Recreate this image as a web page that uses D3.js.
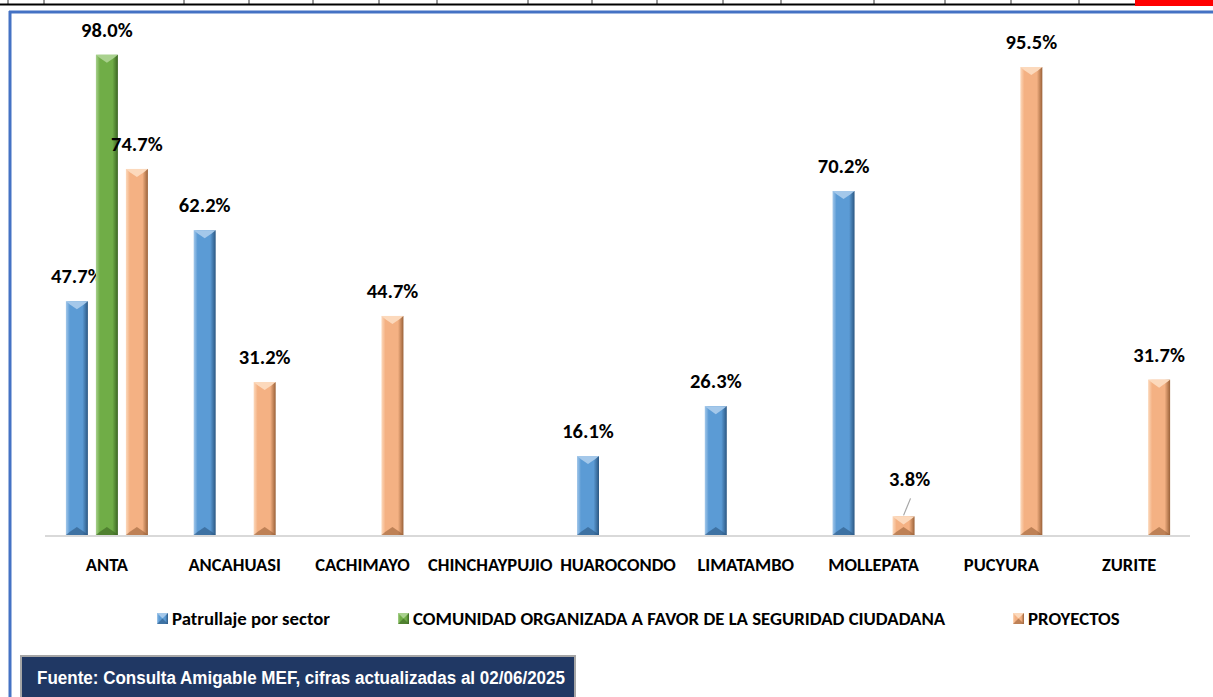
<!DOCTYPE html>
<html>
<head>
<meta charset="utf-8">
<script src="https://d3js.org/d3.v7.min.js"></script>
<style>
  body { margin: 0; background: #fff; }
  svg text { font-family: Carlito, "Liberation Sans Narrow", "Liberation Sans", sans-serif; font-weight: bold; fill: #000; }
  .footer text { font-family: "Liberation Sans", Arial, sans-serif; fill: #fff; }
</style>
</head>
<body>
<svg width="1213" height="697"></svg>
<script>
// data
const categories = ["ANTA", "ANCAHUASI", "CACHIMAYO", "CHINCHAYPUJIO", "HUAROCONDO", "LIMATAMBO", "MOLLEPATA", "PUCYURA", "ZURITE"];
const seriesNames = ["Patrullaje por sector", "COMUNIDAD ORGANIZADA A FAVOR DE LA SEGURIDAD CIUDADANA", "PROYECTOS"];
const patrullaje = [47.7, 62.2, null, null, 16.1, 26.3, 70.2, null, null];
const comunidad  = [98.0, null, null, null, null, null, null, null, null];
const proyectos  = [74.7, 31.2, 44.7, null, null, null, 3.8, 95.5, 31.7];
const footerText = "Fuente: Consulta Amigable MEF, cifras actualizadas al 02/06/2025";

const colors = [
  { light: "#a4c8ea", mid: "#5b9bd5", dark: "#2b5782" },
  { light: "#a9d18e", mid: "#70ad47", dark: "#3b6422" },
  { light: "#fcd9bc", mid: "#f4b183", dark: "#9a6138" }
];

const svg = d3.select("svg");

// top strip (cut-off table above the chart)
const strip = svg.append("g");
[8, 44, 184, 249, 313, 379, 437, 528, 592, 657, 723, 781, 874, 945, 1011, 1079].forEach(x => {
  strip.append("line").attr("x1", x).attr("x2", x).attr("y1", 0).attr("y2", 5).attr("stroke", "#333").attr("stroke-width", 1);
});
strip.append("line").attr("x1", 0).attr("x2", 1135).attr("y1", 4.5).attr("y2", 4.5).attr("stroke", "#000").attr("stroke-width", 2);
strip.append("rect").attr("x", 1135).attr("y", 0).attr("width", 78).attr("height", 6).attr("fill", "#ff0000");

// blue frame
svg.append("line").attr("x1", 9).attr("x2", 1213).attr("y1", 12).attr("y2", 12).attr("stroke", "#4472c4").attr("stroke-width", 3);
svg.append("line").attr("x1", 10).attr("x2", 10).attr("y1", 11).attr("y2", 697).attr("stroke", "#4472c4").attr("stroke-width", 3);

// gradients
const defs = svg.append("defs");
colors.forEach((c, i) => {
  const g = defs.append("linearGradient").attr("id", "grad" + i).attr("x1", "0").attr("x2", "1").attr("y1", "0").attr("y2", "0");
  g.append("stop").attr("offset", "0%").attr("stop-color", c.light);
  g.append("stop").attr("offset", "18%").attr("stop-color", c.mid);
  g.append("stop").attr("offset", "75%").attr("stop-color", c.mid);
  g.append("stop").attr("offset", "100%").attr("stop-color", c.dark);
});

const x0 = d3.scaleBand().domain(categories).range([43, 1193]);
const x1 = d3.scaleBand().domain([0, 1, 2]).range([-41, 41]).paddingInner(8 / 30);
const y = d3.scaleLinear().domain([0, 100]).range([535, 45]);

// baseline
svg.append("line").attr("x1", 45).attr("x2", 1190).attr("y1", y(0) + 1).attr("y2", y(0) + 1)
  .attr("stroke", "#d9d9d9").attr("stroke-width", 2);

const allSeries = [patrullaje, comunidad, proyectos];
const bars = [];
allSeries.forEach((vals, s) => {
  vals.forEach((v, i) => {
    if (v != null) bars.push({ s: s, cat: categories[i], v: v });
  });
});

const bw = x1.bandwidth();
const bar = svg.append("g").selectAll("g").data(bars).join("g")
  .attr("transform", d => "translate(" + (x0(d.cat) + x0.bandwidth() / 2 + x1(d.s)) + ",0)");

bar.append("rect")
  .attr("x", 0).attr("y", d => y(d.v)).attr("width", bw).attr("height", d => y(0) - y(d.v))
  .attr("fill", d => "url(#grad" + d.s + ")");

bar.append("polygon")
  .attr("points", d => {
    const t = y(d.v), h = Math.min(8, (y(0) - t) / 2);
    return [[0, t], [bw, t], [bw - 4, t + h * 0.4], [bw / 2, t + h], [4, t + h * 0.4]].join(" ");
  })
  .attr("fill", d => colors[d.s].light);

bar.append("polygon")
  .attr("points", d => {
    const b = y(0), h = Math.min(8, (y(0) - y(d.v)) / 2);
    return [[0, b], [bw, b], [bw - 4, b - h * 0.4], [bw / 2, b - h], [4, b - h * 0.4]].join(" ");
  })
  .attr("fill", d => colors[d.s].dark).attr("opacity", 0.6);

// value labels
bar.append("text")
  .attr("x", d => d.v < 10 ? bw / 2 + 6 : bw / 2)
  .attr("y", d => d.v < 10 ? y(d.v) - 30 : y(d.v) - 18)
  .attr("text-anchor", "middle")
  .attr("font-size", 20.5)
  .text(d => d.v.toFixed(1) + "%");

// leader line for small value
bar.filter(d => d.v < 10).append("line")
  .attr("x1", bw / 2 + 7).attr("y1", d => y(d.v) - 18)
  .attr("x2", bw / 2).attr("y2", d => y(d.v) - 1)
  .attr("stroke", "#a6a6a6").attr("stroke-width", 1.2);

// category axis
const xAxis = svg.append("g").attr("transform", "translate(0," + (y(0) + 1) + ")")
  .call(d3.axisBottom(x0).tickSize(0).tickPadding(22));
xAxis.select(".domain").remove();
xAxis.selectAll("text").attr("font-size", 18.5).style("font-family", null);

// legend
const legendX = [157, 398, 1013];
const legend = svg.append("g").selectAll("g").data(seriesNames).join("g")
  .attr("transform", (d, i) => "translate(" + legendX[i] + ",613)");
legend.append("rect").attr("width", 11).attr("height", 11).attr("fill", (d, i) => "url(#grad" + i + ")");
legend.append("polygon").attr("points", "0,0 11,0 5.5,5.5").attr("fill", (d, i) => colors[i].light);
legend.append("polygon").attr("points", "0,11 11,11 5.5,5.5").attr("fill", (d, i) => colors[i].dark).attr("opacity", 0.6);
legend.append("text").attr("x", 15).attr("y", 12).attr("font-size", 18.8).text(d => d);

// footer
const footer = svg.append("g").attr("class", "footer");
footer.append("rect").attr("x", 21).attr("y", 656).attr("width", 554).attr("height", 44)
  .attr("fill", "#203864").attr("stroke", "#a6a6a6").attr("stroke-width", 2);
footer.append("text").attr("x", 37).attr("y", 684).attr("font-size", 18)
  .attr("textLength", 528).attr("lengthAdjust", "spacingAndGlyphs").text(footerText);
</script>
</body>
</html>
